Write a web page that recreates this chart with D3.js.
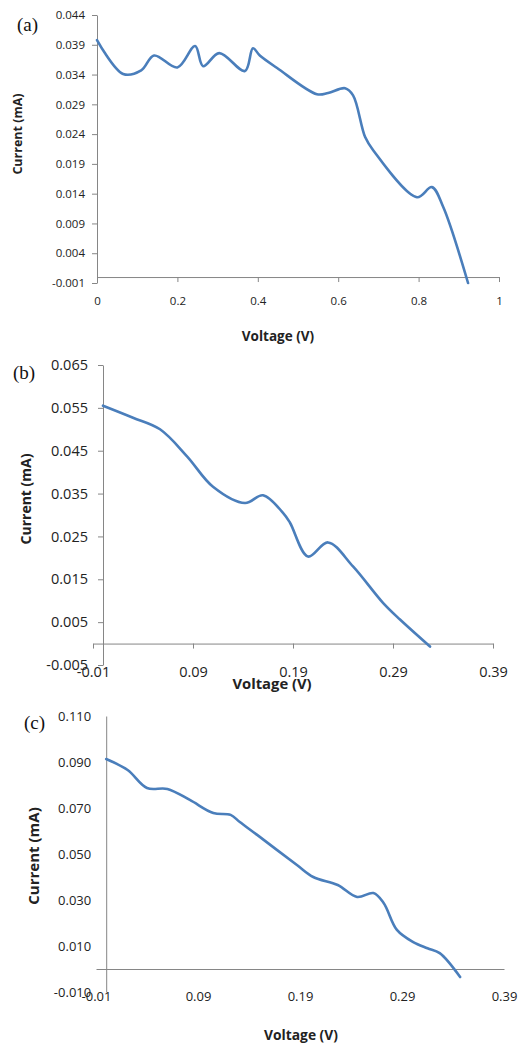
<!DOCTYPE html>
<html>
<head>
<meta charset="UTF-8">
<title>IV curves</title>
<style>
  body { margin: 0; background: #fff; }
  svg text { font-family: "Open Sans", "Liberation Sans", sans-serif; fill: #222; }
  .axis path, .axis line { stroke: #868686; }
  .panel-tag { font-family: "Liberation Serif", "DejaVu Serif", serif; fill: #111; }
</style>
</head>
<body>
<script src="https://cdn.jsdelivr.net/npm/d3@7"></script>
<svg id="chart" width="520" height="1046"></svg>
<script>
// panel (a)
const voltA = [0, 0.065, 0.11, 0.142, 0.2, 0.244, 0.264, 0.304, 0.368, 0.388, 0.405, 0.448, 0.547, 0.575, 0.617, 0.637, 0.667, 0.687, 0.796, 0.833, 0.861, 0.923];
const currA = [0.0398, 0.0341, 0.0347, 0.0372, 0.0352, 0.0388, 0.0354, 0.0376, 0.0346, 0.0384, 0.0372, 0.0351, 0.0307, 0.0309, 0.0317, 0.0305, 0.0235, 0.0213, 0.0134, 0.0151, 0.0118, -0.001];
const xTicksA = [0, 0.2, 0.4, 0.6, 0.8, 1];
const yTicksA = [-0.001, 0.004, 0.009, 0.014, 0.019, 0.024, 0.029, 0.034, 0.039, 0.044];

// panel (b)
const voltB = [0, 0.03, 0.057, 0.084, 0.11, 0.142, 0.16, 0.18, 0.187, 0.205, 0.225, 0.25, 0.28, 0.297, 0.327];
const currB = [0.0555, 0.0527, 0.050, 0.0437, 0.0366, 0.0328, 0.0346, 0.0305, 0.0282, 0.0203, 0.0236, 0.018, 0.0095, 0.0056, -0.0007];
const xTicksB = [-0.01, 0.09, 0.19, 0.29, 0.39];
const yTicksB = [-0.005, 0.005, 0.015, 0.025, 0.035, 0.045, 0.055, 0.065];

// panel (c)
const voltC = [0, 0.021, 0.04, 0.06, 0.082, 0.105, 0.122, 0.131, 0.148, 0.187, 0.203, 0.227, 0.246, 0.262, 0.272, 0.285, 0.301, 0.315, 0.327, 0.347];
const currC = [0.0913, 0.0865, 0.0787, 0.0783, 0.0735, 0.0678, 0.067, 0.0639, 0.0583, 0.0452, 0.040, 0.0365, 0.0313, 0.033, 0.0287, 0.0170, 0.0117, 0.009, 0.0069, -0.0035];
const xTicksC = [-0.01, 0.09, 0.19, 0.29, 0.39];
const yTicksC = [-0.010, 0.010, 0.030, 0.050, 0.070, 0.090, 0.110];

const loc = d3.formatLocale({decimal: ".", thousands: ",", grouping: [3], currency: ["", ""], minus: "-"});

const svg = d3.select("#chart");

function drawPanel(p) {
  const g = svg.append("g");
  const x = d3.scaleLinear().domain(p.xDomain).range(p.xRange);
  const y = d3.scaleLinear().domain(p.yDomain).range(p.yRange);

  // y axis sits at voltage 0
  const yAxis = d3.axisLeft(y).tickValues(p.yTicks).tickFormat(loc.format(".3f"))
    .tickSize(p.tick).tickSizeOuter(0).tickPadding(p.yPad);
  const ya = g.append("g").attr("class", "axis").attr("transform", `translate(${x(0)},0)`).call(yAxis);
  ya.selectAll("text").style("font-size", p.tickFont + "px");

  // x axis sits at current 0
  const xAxis = d3.axisBottom(x).tickValues(p.xTicks).tickFormat(p.xFmt)
    .tickSize(p.tick).tickSizeOuter(0).tickPadding(p.xPad);
  const xa = g.append("g").attr("class", "axis").attr("transform", `translate(0,${y(0)})`).call(xAxis);
  xa.selectAll("text").style("font-size", p.tickFont + "px");
  if (p.tick === 0) xa.selectAll(".tick line").remove();
  if (p.tick === 0) ya.selectAll(".tick line").remove();

  const line = d3.line()
    .x((d, i) => x(p.volt[i]))
    .y((d, i) => y(p.curr[i]))
    .curve(d3.curveCatmullRom.alpha(0.5));

  g.append("path")
    .datum(p.curr)
    .attr("d", line)
    .attr("fill", "none")
    .attr("stroke", "#4a7ebb")
    .attr("stroke-width", 2.6)
    .attr("stroke-linecap", "round");

  g.append("text")
    .attr("x", p.xTitle[0]).attr("y", p.xTitle[1])
    .attr("text-anchor", "middle")
    .style("font-weight", "bold").style("font-size", p.xTitle[2] + "px")
    .text("Voltage (V)");

  g.append("text")
    .attr("transform", `translate(${p.yTitle[0]},${p.yTitle[1]}) rotate(-90)`)
    .attr("text-anchor", "middle")
    .style("font-weight", "bold").style("font-size", p.yTitle[2] + "px")
    .text("Current (mA)");

  g.append("text")
    .attr("class", "panel-tag")
    .attr("x", p.tag[0]).attr("y", p.tag[1])
    .style("font-size", "19px")
    .text(p.tagText);
}

drawPanel({
  volt: voltA, curr: currA, xTicks: xTicksA, yTicks: yTicksA,
  xDomain: [0, 1], xRange: [97, 499],
  yDomain: [-0.001, 0.044], yRange: [283, 15],
  xFmt: d3.format(""), tick: 5, yPad: 7, xPad: 15, tickFont: 11.5,
  xTitle: [278, 341, 13.5], yTitle: [22, 134, 12.5], tag: [17, 31], tagText: "(a)"
});

drawPanel({
  volt: voltB, curr: currB, xTicks: xTicksB, yTicks: yTicksB,
  xDomain: [-0.01, 0.39], xRange: [93, 493],
  yDomain: [-0.005, 0.065], yRange: [665, 365],
  xFmt: loc.format(".2f"), tick: 5, yPad: 10, xPad: 18, tickFont: 14.5,
  xTitle: [272, 689, 14.8], yTitle: [31, 499, 14], tag: [13, 379], tagText: "(b)"
});

drawPanel({
  volt: voltC, curr: currC, xTicks: xTicksC, yTicks: yTicksC,
  xDomain: [-0.01, 0.39], xRange: [96, 504],
  yDomain: [-0.01, 0.11], yRange: [992, 716],
  xFmt: loc.format(".2f"), tick: 0, yPad: 15, xPad: 23, tickFont: 13,
  xTitle: [301, 1040, 13.8], yTitle: [39, 856, 15], tag: [24, 729], tagText: "(c)"
});
</script>
</body>
</html>
